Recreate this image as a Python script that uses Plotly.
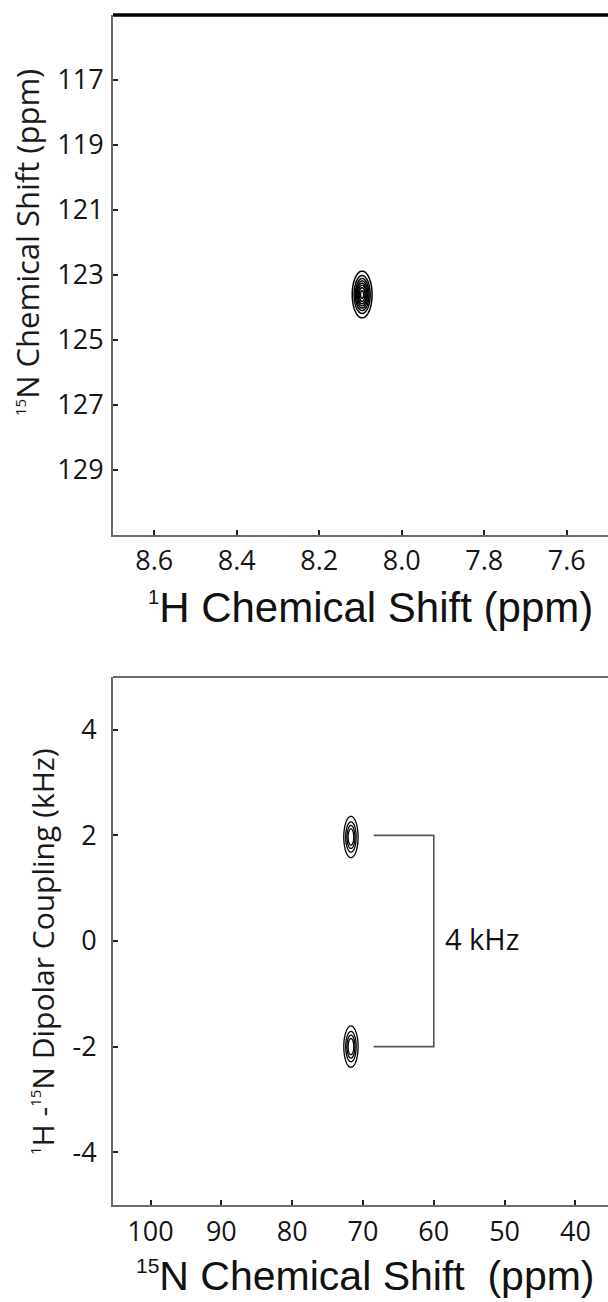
import numpy as np
import plotly.graph_objects as go

# ---------------- data ----------------
# Top panel: 1H-15N correlation peak
hsqc_peak_h = [8.096]        # 1H shift (ppm)
hsqc_peak_n = [123.6]        # 15N shift (ppm)
hsqc_width_h = [0.0112]      # gaussian sigma, 1H (ppm)
hsqc_width_n = [0.335]       # gaussian sigma, 15N (ppm)
top_x_ticks = [8.6, 8.4, 8.2, 8.0, 7.8, 7.6]
top_x_ticktext = ["8.6", "8.4", "8.2", "8.0", "7.8", "7.6"]
top_y_ticks = [117, 119, 121, 123, 125, 127, 129]
top_x_range = [8.70, 7.50]
top_y_range = [131, 115]

# Bottom panel: SLF doublet
slf_peak_n = [71.7, 71.7]    # 15N shift (ppm)
slf_peak_d = [1.97, -2.0]    # dipolar coupling (kHz)
slf_width_n = [0.49, 0.49]
slf_width_d = [0.19, 0.19]
bot_x_ticks = [100, 90, 80, 70, 60, 50, 40]
bot_y_ticks = [4, 2, 0, -2, -4]
bot_y_ticktext = ["4", "2", "0", "-2", "-4"]
bot_x_range = [105.3, 35.4]
bot_y_range = [-5, 5]
bracket_x = [68.5, 60.0, 60.0, 68.5]
bracket_y = [2.0, 2.0, -2.0, -2.0]
bracket_label = "4 kHz"
bracket_label_x = 58.7
bracket_label_y = 0.05

# ---------------- layout geometry ----------------
W, H = 608, 1302
ML, MR, MT, MB = 113, 0, 15, 97
PW = W - ML - MR
PH = H - MT - MB
def px2x(px):
    return (px - ML) / PW
def px2y(py):
    return (H - MB - py) / PH

top_dom = [px2y(535), 1.0]
bot_dom = [0.0, px2y(677)]

TICKFONT = dict(family="Open Sans", size=27, color="#151515")
AXCOL = "#6a6a6a"

def spectrum(xc, yc, sx, sy, xg, yg):
    X, Y = np.meshgrid(xg, yg)
    Z = np.zeros_like(X)
    for a, b, c, d in zip(xc, yc, sx, sy):
        Z += np.exp(-((X - a) ** 2 / (2 * c ** 2) + (Y - b) ** 2 / (2 * d ** 2)))
    return Z

def sup(txt, size):
    return '<sup><span style="font-size:%dpx">%s</span></sup>' % (size, txt)

fig = go.Figure()

# top contour
xg1 = np.linspace(hsqc_peak_h[0] - 6 * hsqc_width_h[0], hsqc_peak_h[0] + 6 * hsqc_width_h[0], 160)
yg1 = np.linspace(hsqc_peak_n[0] - 5 * hsqc_width_n[0], hsqc_peak_n[0] + 5 * hsqc_width_n[0], 240)
z1 = spectrum(hsqc_peak_h, hsqc_peak_n, hsqc_width_h, hsqc_width_n, xg1, yg1)
fig.add_trace(go.Contour(
    x=xg1, y=yg1, z=z1, xaxis="x", yaxis="y",
    contours=dict(start=0.1, end=0.95, size=0.12, coloring="lines"),
    colorscale=[[0, "black"], [1, "black"]], showscale=False,
    line=dict(width=1.5), hoverinfo="skip"))

# bottom contour
xg2 = np.linspace(min(slf_peak_n) - 3, max(slf_peak_n) + 3, 160)
yg2 = np.linspace(min(slf_peak_d) - 1.2, max(slf_peak_d) + 1.2, 360)
z2 = spectrum(slf_peak_n, slf_peak_d, slf_width_n, slf_width_d, xg2, yg2)
fig.add_trace(go.Contour(
    x=xg2, y=yg2, z=z2, xaxis="x2", yaxis="y2",
    contours=dict(start=0.12, end=0.9, size=0.2, coloring="lines"),
    colorscale=[[0, "black"], [1, "black"]], showscale=False,
    line=dict(width=1.3), hoverinfo="skip"))

# bracket
fig.add_trace(go.Scatter(
    x=bracket_x, y=bracket_y, xaxis="x2", yaxis="y2", mode="lines",
    line=dict(color="#555555", width=1.6), hoverinfo="skip", showlegend=False))

common_ax = dict(showline=True, linecolor=AXCOL, linewidth=2, ticks="inside",
                 ticklen=5, tickwidth=2, tickcolor="#222222", showgrid=False,
                 zeroline=False, tickfont=TICKFONT, fixedrange=True)

fig.update_layout(
    width=W, height=H, autosize=False,
    margin=dict(l=ML, r=MR, t=MT, b=MB, pad=0),
    paper_bgcolor="white", plot_bgcolor="white",
    showlegend=False,
    xaxis=dict(domain=[0, 1], range=top_x_range, tickvals=top_x_ticks,
               ticktext=top_x_ticktext, anchor="y", ticklabelstandoff=1, **common_ax),
    yaxis=dict(domain=top_dom, range=top_y_range, tickvals=top_y_ticks,
               anchor="x", ticklabelstandoff=2, **common_ax),
    xaxis2=dict(domain=[0, 1], range=bot_x_range, tickvals=bot_x_ticks,
                anchor="y2", ticklabelstandoff=2, **common_ax),
    yaxis2=dict(domain=bot_dom, range=bot_y_range, tickvals=bot_y_ticks,
                ticktext=bot_y_ticktext, anchor="x2", ticklabelstandoff=9, **common_ax),
)

# top borders
fig.add_shape(type="line", xref="x domain", yref="y domain", x0=0, x1=1, y0=1, y1=1,
              line=dict(color="black", width=3.5))
fig.add_shape(type="line", xref="x2 domain", yref="y2 domain", x0=0, x1=1, y0=1, y1=1,
              line=dict(color=AXCOL, width=2))

TITLEFONT_X = dict(family="Liberation Sans", size=42, color="#111111")
TITLEFONT_XB = dict(family="Liberation Sans", size=41, color="#111111")

fig.add_annotation(text=sup("1", 20) + "H Chemical Shift (ppm)", xref="paper", yref="paper",
                   x=px2x(370), y=px2y(607), xanchor="center", yanchor="middle",
                   showarrow=False, font=TITLEFONT_X)
fig.add_annotation(text=sup("15", 21) + "N Chemical Shift\u00a0 (ppm)", xref="paper", yref="paper",
                   x=px2x(365), y=px2y(1276), xanchor="center", yanchor="middle",
                   showarrow=False, font=TITLEFONT_XB)
fig.add_annotation(text=sup("15", 15) + "N Chemical Shift (ppm)", xref="paper", yref="paper",
                   x=px2x(27), y=px2y(243), xanchor="center", yanchor="middle",
                   textangle=-90, showarrow=False,
                   font=dict(family="Open Sans", size=31, color="#1a1a1a"))
fig.add_annotation(text=sup("1", 15) + "H -" + sup("15", 15) + "N Dipolar Coupling (kHz)",
                   xref="paper", yref="paper",
                   x=px2x(42), y=px2y(952), xanchor="center", yanchor="middle",
                   textangle=-90, showarrow=False,
                   font=dict(family="Open Sans", size=30, color="#1a1a1a"))
fig.add_annotation(text=bracket_label, xref="x2", yref="y2",
                   x=bracket_label_x, y=bracket_label_y, xanchor="left", yanchor="middle",
                   showarrow=False, font=dict(family="Open Sans", size=29, color="#111111"))

fig.write_html("out.html", config=dict(displayModeBar=False))
